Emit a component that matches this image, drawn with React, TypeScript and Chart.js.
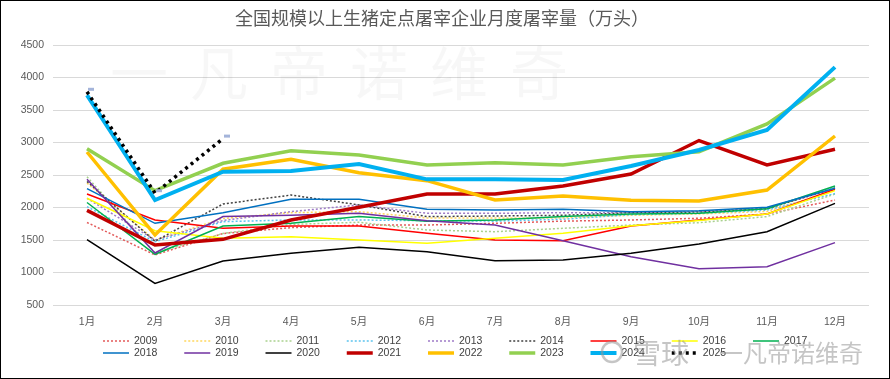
import React, { useEffect, useRef } from 'react';
import { Chart, registerables } from 'chart.js';
Chart.register(...registerables);

const TITLE = '全国规模以上生猪定点屠宰企业月度屠宰量（万头）';
const months = ['1月', '2月', '3月', '4月', '5月', '6月', '7月', '8月', '9月', '10月', '11月', '12月'];
const yTicks = [500, 1000, 1500, 2000, 2500, 3000, 3500, 4000, 4500];

const y2009 = [1770, 1270, 1600, 1690, 1730, 1730, 1757, 1790, 1808, 1834, 1900, 2115];
const y2010 = [2376, 1500, 1830, 1921, 1936, 1840, 1840, 1840, 1880, 1900, 1940, 2260];
const y2011 = [2474, 1300, 1600, 1740, 1772, 1654, 1628, 1680, 1730, 1766, 1860, 2208];
const y2012 = [2013, 1474, 1782, 1808, 1808, 1797, 1790, 1820, 1890, 1910, 1960, 2215];
const y2013 = [2141, 1500, 1800, 1936, 2040, 1910, 1910, 1920, 1920, 1940, 1990, 2290];
const y2014 = [2400, 1480, 2054, 2192, 2040, 1860, 1869, 1880, 1920, 1930, 1980, 2300];
const y2015 = [2208, 1808, 1680, 1715, 1715, 1603, 1500, 1490, 1715, 1808, 1900, 2280];
const y2016 = [2143, 1643, 1526, 1551, 1500, 1450, 1526, 1603, 1720, 1800, 1900, 2260];
const y2017 = [2077, 1280, 1715, 1757, 1860, 1790, 1808, 1860, 1900, 1910, 1980, 2331];
const y2018 = [2290, 1757, 1920, 2126, 2126, 1972, 1962, 1972, 1936, 1951, 2003, 2295];
const y2019 = [2433, 1300, 1860, 1880, 1910, 1797, 1730, 1490, 1243, 1059, 1090, 1459];
const y2020 = [1505, 833, 1177, 1295, 1388, 1320, 1182, 1192, 1295, 1438, 1628, 2064];
const y2021 = [1956, 1423, 1510, 1808, 2003, 2208, 2208, 2331, 2515, 3030, 2654, 2895];
const y2022 = [2854, 1577, 2590, 2741, 2536, 2413, 2115, 2177, 2110, 2100, 2269, 3100];
const y2023 = [2905, 2259, 2680, 2874, 2808, 2654, 2690, 2654, 2782, 2859, 3285, 3990];
const y2024 = [3730, 2115, 2551, 2561, 2669, 2433, 2433, 2423, 2638, 2885, 3192, 4160];
const y2025 = [3780, 2220, 3060, null, null, null, null, null, null, null, null, null];

const seriesData: [string, (number | null)[]][] = [
  ['2009', y2009], ['2010', y2010], ['2011', y2011], ['2012', y2012], ['2013', y2013],
  ['2014', y2014], ['2015', y2015], ['2016', y2016], ['2017', y2017], ['2018', y2018],
  ['2019', y2019], ['2020', y2020], ['2021', y2021], ['2022', y2022], ['2023', y2023],
  ['2024', y2024], ['2025', y2025],
];

const styles: Record<string, { color: string; width: number; dash: number[] }> = {
  '2009': { color: '#E35B5B', width: 1.5, dash: [2, 2] },
  '2010': { color: '#FFD75E', width: 1.5, dash: [2, 2] },
  '2011': { color: '#A9D18E', width: 1.5, dash: [2, 2] },
  '2012': { color: '#5CC3EE', width: 1.5, dash: [2, 2] },
  '2013': { color: '#9E7BC8', width: 1.5, dash: [2, 2] },
  '2014': { color: '#404040', width: 1.5, dash: [2, 2] },
  '2015': { color: '#FF0000', width: 1.5, dash: [] },
  '2016': { color: '#FFFF00', width: 1.5, dash: [] },
  '2017': { color: '#00B050', width: 1.5, dash: [] },
  '2018': { color: '#0070C0', width: 1.5, dash: [] },
  '2019': { color: '#7030A0', width: 1.5, dash: [] },
  '2020': { color: '#000000', width: 1.5, dash: [] },
  '2021': { color: '#C00000', width: 3.5, dash: [] },
  '2022': { color: '#FFC000', width: 3.5, dash: [] },
  '2023': { color: '#92D050', width: 3.5, dash: [] },
  '2024': { color: '#00B0F0', width: 4, dash: [] },
  '2025': { color: '#000000', width: 3.5, dash: [3, 4] },
};

const decorPlugin = {
  id: 'decor',
  beforeDatasetsDraw(chart: any) {
    const ctx = chart.ctx;
    ctx.save();
    ctx.fillStyle = 'rgba(0,0,0,0.03)';
    ctx.font = '58px "Noto Sans CJK SC"';
    ctx.textAlign = 'center';
    ctx.textBaseline = 'middle';
    const wm = '一凡帝诺维奇';
    for (let i = 0; i < wm.length; i++) {
      ctx.fillText(wm[i], 138 + i * 80, 72);
    }
    ctx.restore();
  },
  afterDatasetsDraw(chart: any) {
    const meta = chart.getDatasetMeta(chart.data.datasets.length - 1);
    const ctx = chart.ctx;
    ctx.save();
    ctx.fillStyle = '#A4B4DA';
    meta.data.forEach((pt: any, i: number) => {
      if (y2025[i] == null) return;
      ctx.fillRect(pt.x + 1, pt.y - 4, 6, 3);
    });
    ctx.restore();
  },
  afterDraw(chart: any) {
    const ctx = chart.ctx;
    ctx.save();
    ctx.fillStyle = '#595959';
    ctx.font = '18px "Noto Sans CJK SC"';
    ctx.textAlign = 'center';
    ctx.textBaseline = 'middle';
    ctx.fillText(TITLE, 441, 17);

    chart.data.datasets.forEach((ds: any, i: number) => {
      const col = i % 9;
      const row = Math.floor(i / 9);
      const x = 102 + col * 81.25;
      const y = 340 + row * 12;
      ctx.beginPath();
      ctx.setLineDash(ds.borderDash || []);
      ctx.lineWidth = ds.borderWidth;
      ctx.strokeStyle = ds.borderColor;
      ctx.moveTo(x, y);
      ctx.lineTo(x + 26, y);
      ctx.stroke();
      ctx.setLineDash([]);
      ctx.fillStyle = '#404040';
      ctx.font = '10.5px "Liberation Sans"';
      ctx.textAlign = 'left';
      ctx.fillText(ds.label, x + 31, y + 0.5);
    });

    ctx.fillStyle = 'rgba(150,150,150,0.55)';
    ctx.strokeStyle = 'rgba(150,150,150,0.55)';
    ctx.lineWidth = 2.5;
    ctx.beginPath();
    ctx.arc(611, 351, 10, 0, Math.PI * 2);
    ctx.stroke();
    ctx.font = '28px "Noto Sans CJK SC"';
    ctx.textAlign = 'left';
    ctx.fillText('雪球', 632, 352);
    ctx.font = '24px "Noto Sans CJK SC"';
    ctx.fillText('一凡帝诺维奇', 718, 352);
    ctx.restore();
  },
};

export default function App() {
  const ref = useRef<HTMLCanvasElement>(null);
  useEffect(() => {
    document.body.style.margin = '0';
    const datasets = seriesData.map(([name, vals]) => {
      const s = styles[name];
      return {
        label: name,
        data: vals,
        borderColor: s.color,
        backgroundColor: s.color,
        borderWidth: s.width,
        borderDash: s.dash,
        pointRadius: 0,
        tension: 0,
        fill: false,
        order: 2025 - Number(name),
      };
    });
    const chart = new Chart(ref.current as HTMLCanvasElement, {
      type: 'line',
      data: { labels: months, datasets },
      options: {
        animation: false,
        responsive: true,
        maintainAspectRatio: false,
        layout: { padding: { left: 0, right: 20, top: 44, bottom: 0 } },
        plugins: { legend: { display: false }, title: { display: false }, tooltip: { enabled: false } },
        scales: {
          x: {
            offset: true,
            grid: { display: false, drawTicks: false },
            border: { display: false },
            ticks: { color: '#595959', padding: 11, font: { family: '"Liberation Sans", "Noto Sans CJK SC"', size: 10.5 }, maxRotation: 0 },
            afterFit: (scale: any) => { scale.height = 73; },
          },
          y: {
            min: yTicks[0],
            max: yTicks[yTicks.length - 1],
            ticks: {
              stepSize: 500,
              color: '#595959',
              padding: 9,
              font: { family: '"Liberation Sans"', size: 10.5 },
              callback: (v: any) => String(v),
            },
            grid: { color: '#D9D9D9', lineWidth: 1, drawTicks: false },
            border: { display: false },
            afterFit: (scale: any) => { scale.width = 52; },
          },
        },
      },
      plugins: [decorPlugin],
    } as any);
    return () => chart.destroy();
  }, []);
  return (
    <div style={{ width: 890, height: 379, boxSizing: 'border-box', border: '1px solid #000', background: '#fff' }}>
      <div style={{ position: 'relative', width: 888, height: 377 }}>
        <canvas ref={ref} />
      </div>
    </div>
  );
}
